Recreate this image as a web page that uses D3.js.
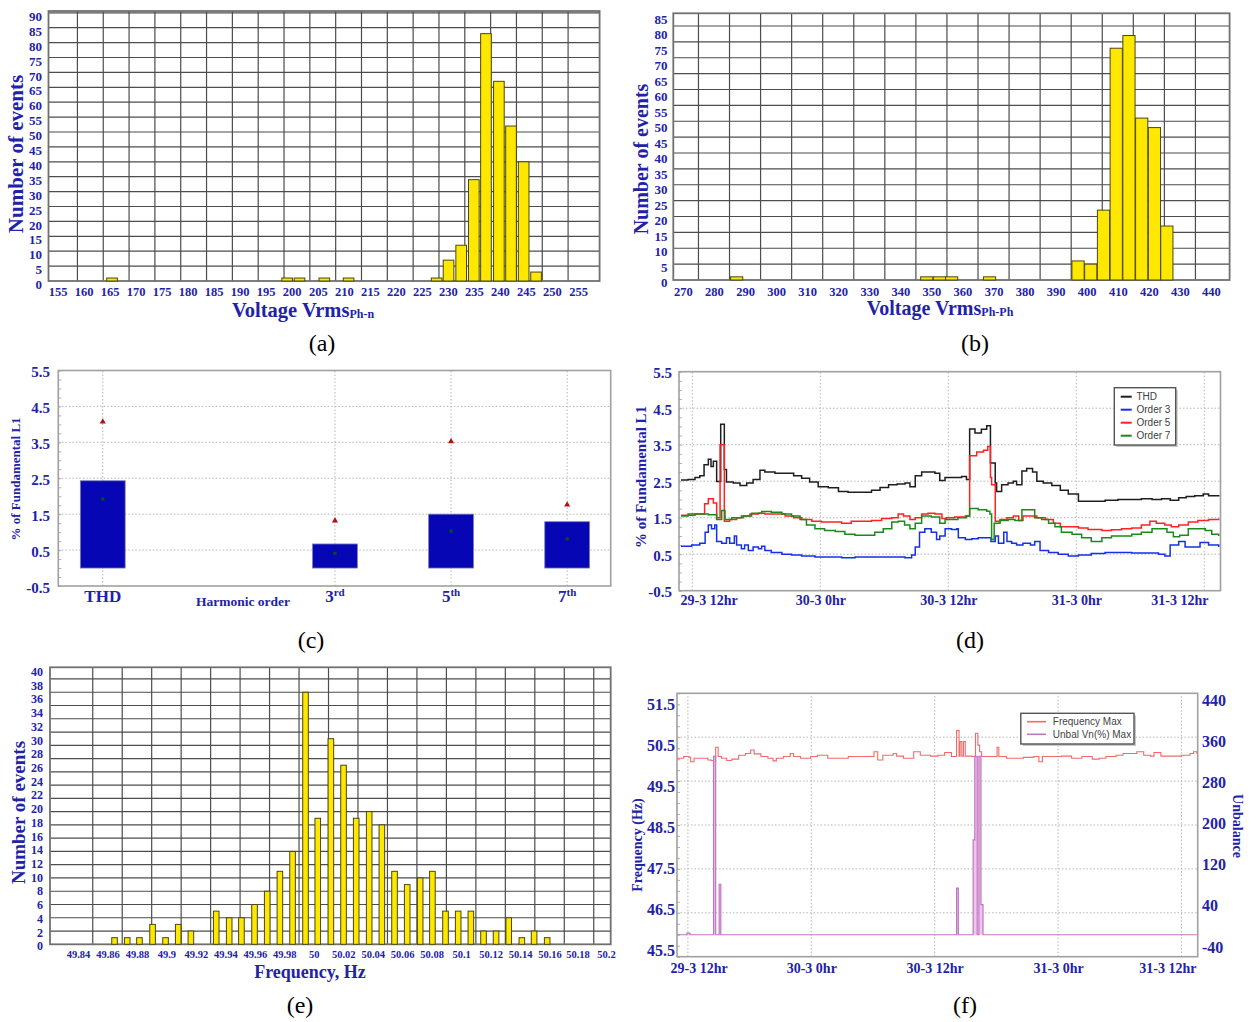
<!DOCTYPE html>
<html><head><meta charset="utf-8">
<script src="https://cdn.jsdelivr.net/npm/d3@7/dist/d3.min.js"></script>
<style>body{margin:0;background:#fff}svg{display:block}</style>
</head><body>
<svg id="c" width="1256" height="1022"></svg>
<script>
// ================= DATA =================
// (a) Voltage Vrms Ph-n histogram
const aCenters = [164.2, 198.1, 200.5, 205.3, 210.0, 227.05, 229.35, 231.8, 234.25, 236.6, 239.1, 241.45, 243.9, 246.3];
const aCounts  = [1, 1, 1, 1, 1, 1, 7, 12, 34, 83, 67, 52, 40, 3];
const aXLabels = [155,160,165,170,175,180,185,190,195,200,205,210,215,220,225,230,235,240,245,250,255];
const aYLabels = [0,5,10,15,20,25,30,35,40,45,50,55,60,65,70,75,80,85,90];
// (b) Voltage Vrms Ph-Ph histogram
const bCenters = [287.3, 348.5, 352.6, 356.5, 368.7, 397.2, 401.3, 405.4, 409.5, 413.6, 417.7, 421.8, 425.8];
const bCounts  = [1, 1, 1, 1, 1, 6, 5, 22, 73, 77, 51, 48, 17];
const bXLabels = [270,280,290,300,310,320,330,340,350,360,370,380,390,400,410,420,430,440];
const bYLabels = [0,5,10,15,20,25,30,35,40,45,50,55,60,65,70,75,80,85];
// (c) Harmonic summary
const cCatMain = ["THD", "3", "5", "7"];
const cCatSup  = ["", "rd", "th", "th"];
const cIndex   = [0, 2, 3, 4];
const cBar     = [2.43, 0.67, 1.50, 1.29];
const cMean    = [1.92, 0.41, 1.03, 0.81];
const cMax     = [4.07, 1.32, 3.52, 1.76];
const cYLabels = [5.5, 4.5, 3.5, 2.5, 1.5, 0.5, -0.5];
// (d) Harmonics vs time  [hours from 29-3 0hr, % of fundamental]
const dTimeTicks  = [12, 24, 36, 48, 60];
const dTimeLabels = ["29-3 12hr", "30-3 0hr", "30-3 12hr", "31-3 0hr", "31-3 12hr"];
const dYLabels = [5.5, 4.5, 3.5, 2.5, 1.5, 0.5, -0.5];
const dTHD = [[10.94,2.53],[11.6,2.55],[12.25,2.6],[12.7,2.65],[13.1,2.95],[13.5,3.1],[13.75,2.9],[13.97,3.05],[14.28,2.49],[14.66,4.06],[15.0,2.82],[15.2,2.48],[15.84,2.45],[16.47,2.38],[17.1,2.45],[17.7,2.55],[18.34,2.8],[18.8,2.75],[19.75,2.72],[20.7,2.72],[21.5,2.65],[22.25,2.58],[23.0,2.48],[23.8,2.35],[24.75,2.32],[25.7,2.22],[26.6,2.2],[27.9,2.2],[28.8,2.25],[29.6,2.33],[30.4,2.4],[31.2,2.42],[31.94,2.45],[32.4,2.35],[32.9,2.65],[33.5,2.75],[34.1,2.75],[34.75,2.72],[35.2,2.52],[35.69,2.6],[36.6,2.6],[37.25,2.63],[37.7,2.55],[38.0,3.93],[38.5,3.82],[39.1,3.92],[39.6,4.02],[39.95,3.0],[40.4,2.45],[40.53,2.22],[41.0,2.4],[41.6,2.45],[42.1,2.5],[42.4,2.4],[42.9,2.78],[43.35,2.85],[43.9,2.75],[44.3,2.5],[44.9,2.45],[45.7,2.38],[46.5,2.25],[47.25,2.15],[48.2,1.95],[49.4,1.95],[50.7,1.98],[51.9,2.0],[53.2,2.0],[54.1,2.02],[55.1,2.0],[56.0,2.02],[56.8,1.98],[57.6,2.05],[58.3,2.08],[59.1,2.1],[59.9,2.15],[60.4,2.1],[61.35,2.12]];
const dO3 = [[10.94,0.72],[11.94,0.75],[12.7,0.8],[13.2,1.1],[13.5,1.3],[13.8,1.2],[14.1,1.3],[14.28,0.85],[14.75,0.8],[15.2,0.95],[15.5,0.8],[15.94,1.0],[16.15,0.75],[16.6,0.65],[16.9,0.75],[17.25,0.6],[17.7,0.7],[18.2,0.65],[18.5,0.72],[18.8,0.6],[19.4,0.55],[20.4,0.5],[21.3,0.48],[22.25,0.45],[23.5,0.42],[24.75,0.42],[26.0,0.4],[27.25,0.42],[28.5,0.42],[29.75,0.42],[31.0,0.42],[31.94,0.4],[32.56,0.48],[32.9,0.7],[33.3,1.1],[33.8,1.2],[34.4,1.1],[34.9,0.9],[35.2,1.0],[35.7,1.2],[36.3,1.18],[36.8,1.2],[36.94,0.95],[37.6,0.9],[38.2,0.92],[38.8,0.95],[39.6,0.95],[40.0,0.85],[40.4,1.0],[40.7,0.8],[41.2,1.1],[41.5,0.85],[41.94,0.8],[42.4,0.75],[43.0,0.8],[43.7,0.75],[44.1,0.85],[44.6,0.6],[45.4,0.55],[46.3,0.5],[47.25,0.45],[48.2,0.48],[49.4,0.52],[50.7,0.55],[51.9,0.55],[53.2,0.53],[54.4,0.53],[55.7,0.5],[56.3,0.45],[56.8,0.75],[57.6,0.85],[58.2,0.7],[59.0,0.7],[59.6,0.82],[60.4,0.75],[61.35,0.7]];
const dO5 = [[10.94,1.57],[12.25,1.6],[13.15,1.88],[13.5,2.02],[13.97,1.9],[14.28,1.5],[14.6,3.5],[15.0,1.4],[15.5,1.45],[16.15,1.5],[16.8,1.55],[17.4,1.6],[18.2,1.62],[18.8,1.6],[19.75,1.6],[20.7,1.55],[21.5,1.5],[22.25,1.45],[23.2,1.4],[24.1,1.38],[25.4,1.38],[26.0,1.35],[26.9,1.4],[27.9,1.4],[28.8,1.42],[29.75,1.48],[30.7,1.5],[31.3,1.6],[31.8,1.55],[32.4,1.45],[32.9,1.5],[33.5,1.6],[34.1,1.62],[34.75,1.6],[35.4,1.48],[35.84,1.5],[36.6,1.52],[37.6,1.55],[38.0,3.2],[38.66,3.3],[39.3,3.35],[39.7,3.45],[39.95,2.6],[40.06,2.4],[40.4,1.4],[40.85,1.45],[41.5,1.5],[42.1,1.55],[42.6,1.42],[43.0,1.55],[43.7,1.55],[44.3,1.5],[45.1,1.45],[45.85,1.35],[46.5,1.25],[47.25,1.25],[48.2,1.22],[49.1,1.18],[50.4,1.15],[51.3,1.17],[52.25,1.2],[53.2,1.22],[54.1,1.3],[54.9,1.4],[55.5,1.35],[56.3,1.3],[56.9,1.25],[57.6,1.3],[58.5,1.38],[59.4,1.42],[60.4,1.45],[61.35,1.48]];
const dO7 = [[10.94,1.55],[11.6,1.6],[12.56,1.6],[13.5,1.58],[14.28,1.45],[14.75,1.7],[15.06,1.45],[15.7,1.5],[16.6,1.55],[17.56,1.62],[18.5,1.67],[19.4,1.65],[20.4,1.6],[21.3,1.55],[22.1,1.45],[22.7,1.3],[23.5,1.2],[24.4,1.15],[25.4,1.12],[26.3,1.05],[27.25,1.02],[28.2,1.02],[29.1,1.1],[29.9,1.2],[30.7,1.38],[31.3,1.4],[31.9,1.3],[32.4,1.2],[32.9,1.35],[33.5,1.55],[34.4,1.52],[35.2,1.35],[35.7,1.45],[36.9,1.5],[37.7,1.55],[38.0,1.75],[38.8,1.72],[39.6,1.68],[39.9,1.6],[40.06,0.9],[40.3,1.35],[40.85,1.42],[41.6,1.45],[42.25,1.42],[42.9,1.72],[43.7,1.72],[44.1,1.5],[44.75,1.45],[45.4,1.35],[46.0,1.25],[46.6,1.1],[47.6,1.05],[48.5,0.95],[49.4,0.85],[50.4,0.95],[51.3,1.0],[52.25,1.0],[53.2,1.05],[54.1,1.1],[55.1,1.2],[55.85,1.2],[56.5,1.1],[57.1,0.98],[57.7,1.02],[58.5,1.2],[59.3,1.2],[60.1,1.15],[60.7,1.05],[61.35,1.0]];
// (e) Frequency histogram
const eCenters = [49.8648,49.8734,49.8817,49.8906,49.8994,49.9080,49.9166,49.9338,49.9426,49.9509,49.9598,49.9684,49.9770,49.9856,49.9944,50.0027,50.0116,50.0202,50.0288,50.0376,50.0462,50.0548,50.0634,50.0722,50.0805,50.0894,50.0980,50.1066,50.1152,50.1237,50.1323,50.1412,50.1495,50.1584];
const eCounts  = [1,1,1,3,1,3,2,5,4,4,6,8,11,14,38,19,31,27,19,20,18,11,9,10,11,5,5,5,2,2,4,1,2,1];
const eXLabels = [49.84,49.86,49.88,49.9,49.92,49.94,49.96,49.98,50,50.02,50.04,50.06,50.08,50.1,50.12,50.14,50.16,50.18,50.2];
const eYLabels = [0,2,4,6,8,10,12,14,16,18,20,22,24,26,28,30,32,34,36,38,40];
// (f) Frequency & unbalance vs time
const fTimeTicks  = [12, 24, 36, 48, 60];
const fTimeLabels = ["29-3 12hr", "30-3 0hr", "30-3 12hr", "31-3 0hr", "31-3 12hr"];
const fLeftLabels  = [51.5, 50.5, 49.5, 48.5, 47.5, 46.5, 45.5];
const fRightLabels = [440, 360, 280, 200, 120, 40, -40];
const fFreq = [[10.93,50.02],[11.6,50.06],[12.1,50.04],[12.27,49.94],[12.6,50.02],[13.27,50.02],[13.94,49.98],[14.27,49.97],[14.54,49.94],[14.7,50.27],[14.94,50.06],[15.27,50.02],[15.77,49.97],[16.27,50.0],[16.94,50.09],[17.6,50.13],[18.1,50.21],[18.44,50.12],[19.1,50.06],[19.78,50.02],[20.28,49.96],[20.6,50.02],[21.28,50.06],[21.95,50.13],[22.28,50.06],[22.95,50.02],[23.95,50.06],[24.6,50.09],[25.6,50.02],[26.6,50.02],[27.6,50.06],[28.6,50.06],[29.6,50.06],[30.1,50.17],[30.46,49.98],[30.96,50.09],[31.96,50.13],[32.3,50.07],[32.96,50.02],[33.96,50.17],[34.6,50.09],[35.6,50.07],[36.3,50.09],[36.97,50.15],[37.63,50.06],[38.13,50.65],[38.37,50.07],[38.47,50.40],[38.64,50.07],[38.8,50.40],[38.97,50.07],[39.64,50.06],[39.97,50.59],[40.2,50.32],[40.37,50.17],[40.57,50.06],[41.64,50.06],[42.07,50.27],[42.24,50.06],[42.97,50.02],[43.64,50.02],[44.64,50.04],[45.64,50.06],[46.14,49.94],[46.48,50.06],[47.31,50.06],[48.31,50.07],[49.32,50.02],[50.32,50.06],[51.32,50.0],[51.99,50.02],[52.65,50.06],[53.65,50.09],[54.32,50.13],[54.99,50.13],[55.66,50.17],[56.33,50.09],[56.99,50.07],[57.33,50.15],[58.0,50.07],[59.0,50.07],[60.0,50.09],[60.83,50.13],[61.17,50.17],[61.5,50.12]];
const fUnbal = [[10.94,0],[11.9,3],[12.2,0],[14.5,325],[14.7,0],[15.04,92],[15.2,0],[38.13,85],[38.3,0],[39.74,173],[39.9,325],[40.14,0],[40.3,325],[40.5,55],[40.7,0],[61.5,0]];

// ================= DRAWING =================
const SERIF = '"Liberation Serif","Times New Roman",Times,serif';
const SANS = '"Liberation Sans",Arial,Helvetica,sans-serif';
const BLUE = '#2222a8';
const svg = d3.select('#c');

function styleAxis(g, size, color, family, weight) {
  g.attr('font-family', family || SERIF).attr('font-size', size).attr('font-weight', weight || 'bold');
  g.select('.domain').remove();
  g.selectAll('.tick line').remove();
  g.selectAll('text').attr('fill', color || BLUE);
  return g;
}
function leftLabels(scale, values, x, size, fmt, shift) {
  const g = svg.append('g').attr('transform', `translate(${x},${shift || 0})`)
    .call(d3.axisLeft(scale).tickValues(values).tickSize(0).tickPadding(0).tickFormat(fmt || (d => String(d))));
  return styleAxis(g, size);
}
function rightLabels(scale, values, x, size, fmt) {
  const g = svg.append('g').attr('transform', `translate(${x},0)`)
    .call(d3.axisRight(scale).tickValues(values).tickSize(0).tickPadding(0).tickFormat(fmt || (d => String(d))));
  return styleAxis(g, size);
}
function bottomLabels(scale, values, baseline, size, fmt) {
  const g = svg.append('g').attr('transform', `translate(0,${baseline - 0.71 * size})`)
    .call(d3.axisBottom(scale).tickValues(values).tickSize(0).tickPadding(0).tickFormat(fmt || (d => String(d))));
  return styleAxis(g, size);
}
function vTitle(text, cx, cy, size, rot) {
  svg.append('text').attr('transform', `translate(${cx},${cy}) rotate(${rot || -90})`)
    .attr('text-anchor', 'middle').attr('dy', '0.35em')
    .attr('font-family', SERIF).attr('font-weight', 'bold').attr('font-size', size).attr('fill', BLUE).text(text);
}
function caption(text, cx, base) {
  svg.append('text').attr('x', cx).attr('y', base).attr('text-anchor', 'middle')
    .attr('font-family', SERIF).attr('font-size', 24).attr('fill', '#000').text(text);
}

// ---------- histogram helper ----------
function histogram(o) {
  const x = d3.scaleLinear().domain(o.xDomain).range(o.xRange);
  const y = d3.scaleLinear().domain(o.yDomain).range(o.yRange);
  const [x0, x1] = o.xRange, [y0, y1] = o.yRange;
  const g = svg.append('g');
  g.selectAll(null).data(o.gridX).join('line')
    .attr('x1', d => x(d)).attr('x2', d => x(d)).attr('y1', y0).attr('y2', y1)
    .attr('stroke', '#4d4d4d').attr('stroke-width', 1.2);
  g.selectAll(null).data(o.gridY).join('line')
    .attr('x1', x0).attr('x2', x1).attr('y1', d => y(d)).attr('y2', d => y(d))
    .attr('stroke', '#4d4d4d').attr('stroke-width', 1.2);
  g.append('rect').attr('x', x0).attr('y', y1).attr('width', x1 - x0).attr('height', y0 - y1)
    .attr('fill', 'none').attr('stroke', '#707070').attr('stroke-width', 1.8);
  const bars = o.centers.map((c, i) => ({ c, v: o.counts[i] }));
  g.selectAll(null).data(bars).join('rect')
    .attr('x', d => x(d.c - o.binW / 2)).attr('width', d => x(d.c + o.binW / 2) - x(d.c - o.binW / 2))
    .attr('y', d => y(d.v)).attr('height', d => y(0) - y(d.v))
    .attr('fill', '#ffe800').attr('stroke', '#4a4615').attr('stroke-width', 1);
  return { x, y };
}

// ===== (a) =====
histogram({
  xDomain: [151.9, 258.6], xRange: [48.5, 599.6],
  yDomain: [0, 90.6], yRange: [281, 11],
  gridX: d3.range(157.5, 253, 5), gridY: d3.range(5, 91, 5),
  centers: aCenters, counts: aCounts, binW: 2.06
});
{
  const yl = d3.scaleLinear().domain([0, 90]).range([284.5, 16.3]);
  leftLabels(yl, aYLabels, 42, 13);
  const xl = d3.scaleLinear().domain([155, 255]).range([57.5, 578]);
  bottomLabels(xl, aXLabels, 296, 12.5);
  vTitle('Number of events', 16, 154, 21);
  const t = svg.append('text').attr('x', 303).attr('y', 317).attr('text-anchor', 'middle')
    .attr('font-family', SERIF).attr('font-weight', 'bold').attr('fill', BLUE);
  t.append('tspan').attr('font-size', 20.5).text('Voltage Vrms');
  t.append('tspan').attr('font-size', 12).attr('dy', 1).text('Ph-n');
  caption('(a)', 322, 351);
}

// ===== (b) =====
histogram({
  xDomain: [266.9, 446], xRange: [673.3, 1229.6],
  yDomain: [0, 84], yRange: [280, 13.3],
  gridX: d3.range(275, 436, 10), gridY: d3.range(5, 81, 5),
  centers: bCenters, counts: bCounts, binW: 3.93
});
{
  const yl = d3.scaleLinear().domain([0, 85]).range([282.7, 19.3]);
  leftLabels(yl, bYLabels, 667.5, 13);
  const xl = d3.scaleLinear().domain([266.9, 446]).range([673.3, 1229.6]);
  bottomLabels(xl, bXLabels, 296, 12.5);
  vTitle('Number of events', 641, 159, 20);
  const t = svg.append('text').attr('x', 940).attr('y', 315).attr('text-anchor', 'middle')
    .attr('font-family', SERIF).attr('font-weight', 'bold').attr('fill', BLUE);
  t.append('tspan').attr('font-size', 20).text('Voltage Vrms');
  t.append('tspan').attr('font-size', 12).attr('dy', 1).text('Ph-Ph');
  caption('(b)', 975, 351);
}

// ---------- line-chart frame helper ----------
function dottedGrid(x, y, xs, ys, x0, x1, y0, y1) {
  const g = svg.append('g');
  g.selectAll(null).data(xs).join('line')
    .attr('x1', d => x(d)).attr('x2', d => x(d)).attr('y1', y0).attr('y2', y1)
    .attr('stroke', '#b5b5b5').attr('stroke-width', 1).attr('stroke-dasharray', '1.5,2');
  g.selectAll(null).data(ys).join('line')
    .attr('x1', x0).attr('x2', x1).attr('y1', d => y(d)).attr('y2', d => y(d))
    .attr('stroke', '#b5b5b5').attr('stroke-width', 1).attr('stroke-dasharray', '1.5,2');
}
function frame(x0, x1, y0, y1) {
  svg.append('rect').attr('x', x0).attr('y', y1).attr('width', x1 - x0).attr('height', y0 - y1)
    .attr('fill', 'none').attr('stroke', '#a0a0a0').attr('stroke-width', 1.6);
}
function minorLeft(scale, values, x, len) {
  const g = svg.append('g').attr('transform', `translate(${x},0)`)
    .call(d3.axisRight(scale).tickValues(values).tickSize(len).tickFormat(''));
  g.select('.domain').remove();
  g.selectAll('line').attr('stroke', '#b0b0b0');
}

// ===== (c) =====
{
  const x = d3.scaleLinear().domain([-0.383, 4.375]).range([58.3, 610.7]);
  const y = d3.scaleLinear().domain([-0.5, 5.5]).range([586, 370.5]);
  dottedGrid(x, y, cIndex, [0.5, 1.5, 2.5, 3.5, 4.5], 58.3, 610.7, 586, 370.5);
  minorLeft(y, d3.range(-0.5, 5.51, 0.25), 58.3, 3);
  frame(58.3, 610.7, 586, 370.5);
  const hw = 0.193;
  svg.append('g').selectAll(null).data(cIndex).join('rect')
    .attr('x', d => x(d - hw)).attr('width', d => x(d + hw) - x(d - hw))
    .attr('y', (d, i) => y(cBar[i])).attr('height', (d, i) => y(0) - y(cBar[i]))
    .attr('fill', '#0606b4').attr('stroke', '#7a7ab8').attr('stroke-width', 0.8);
  svg.append('g').selectAll(null).data(cIndex).join('path')
    .attr('d', d3.symbol(d3.symbolSquare, 10))
    .attr('transform', (d, i) => `translate(${x(d)},${y(cMean[i])})`).attr('fill', '#0b4d12');
  svg.append('g').selectAll(null).data(cIndex).join('path')
    .attr('d', d3.symbol(d3.symbolTriangle, 16))
    .attr('transform', (d, i) => `translate(${x(d)},${y(cMax[i])})`).attr('fill', '#b51010');
  leftLabels(y, cYLabels, 50, 15, d => d.toFixed(1), 1.5);
  const lab = svg.append('g').selectAll(null).data(cIndex).join('text')
    .attr('x', d => x(d)).attr('y', 602).attr('text-anchor', 'middle')
    .attr('font-family', SERIF).attr('font-weight', 'bold').attr('fill', BLUE);
  lab.append('tspan').attr('font-size', 17).text((d, i) => cCatMain[i]);
  lab.append('tspan').attr('font-size', 11).attr('dy', -6).text((d, i) => cCatSup[i]);
  svg.append('text').attr('x', 243).attr('y', 606).attr('text-anchor', 'middle')
    .attr('font-family', SERIF).attr('font-weight', 'bold').attr('font-size', 13.5).attr('fill', BLUE)
    .text('Harmonic order');
  vTitle('% of Fundamental L1', 15, 479, 13);
  caption('(c)', 311, 648);
}

// ===== (d) =====
{
  const X0 = 679, X1 = 1220.5, Y0 = 590.7, Y1 = 371.7;
  const x = d3.scaleLinear().domain([10.75, 61.52]).range([X0, X1]);
  const y = d3.scaleLinear().domain([-0.5, 5.5]).range([Y0, Y1]);
  dottedGrid(x, y, dTimeTicks, [0.5, 1.5, 2.5, 3.5, 4.5], X0, X1, Y0, Y1);
  minorLeft(y, d3.range(-0.5, 5.51, 0.25), X0, 3);
  frame(X0, X1, Y0, Y1);
  const series = [
    { name: 'THD', color: '#1e1e1e', data: dTHD },
    { name: 'Order 3', color: '#1530e6', data: dO3 },
    { name: 'Order 5', color: '#ff2222', data: dO5 },
    { name: 'Order 7', color: '#1a8a1a', data: dO7 }
  ];
  const line = d3.line().x(d => x(d[0])).y(d => y(d[1])).curve(d3.curveStepAfter);
  svg.append('g').selectAll(null).data(series).join('path')
    .attr('d', s => line(s.data)).attr('fill', 'none').attr('stroke', s => s.color).attr('stroke-width', 1.5);
  leftLabels(y, dYLabels, 672, 15, d => d.toFixed(1), 1);
  const xl = bottomLabels(x, dTimeTicks, 605, 14, (d, i) => dTimeLabels[i]);
  const txt = xl.selectAll('text').nodes();
  d3.select(txt[0]).attr('text-anchor', 'start').attr('dx', 680 - x(12));
  d3.select(txt[txt.length - 1]).attr('text-anchor', 'end').attr('dx', 1208 - x(60));
  vTitle('% of Fundamental L1', 641, 477, 15);
  // legend
  const lg = svg.append('g');
  lg.append('rect').attr('x', 1116.3).attr('y', 389.7).attr('width', 61.4).attr('height', 57.3).attr('fill', '#c8c8c8');
  lg.append('rect').attr('x', 1114.3).attr('y', 387.7).attr('width', 61.4).attr('height', 57.3)
    .attr('fill', '#fff').attr('stroke', '#555').attr('stroke-width', 1.4);
  const ly = d3.scalePoint().domain(series.map(s => s.name)).range([396.7, 435.7]);
  lg.selectAll(null).data(series).join('line')
    .attr('x1', 1120.7).attr('x2', 1131.7).attr('y1', s => ly(s.name)).attr('y2', s => ly(s.name))
    .attr('stroke', s => s.color).attr('stroke-width', 2);
  lg.selectAll(null).data(series).join('text')
    .attr('x', 1136.5).attr('y', s => ly(s.name)).attr('dy', '0.35em')
    .attr('font-family', SANS).attr('font-size', 10).attr('fill', '#404040').text(s => s.name);
  caption('(d)', 970, 648);
}

// ===== (e) =====
{
  histogram({
    xDomain: [49.821, 50.2015], xRange: [50, 610.7],
    yDomain: [0, 41.76], yRange: [944.3, 667.3],
    gridX: d3.range(0, 18).map(i => +(49.85 + 0.02 * i).toFixed(2)), gridY: d3.range(2, 41, 2),
    centers: eCenters, counts: eCounts, binW: 0.0038
  });
  const yl = d3.scaleLinear().domain([0, 40]).range([946, 671.7]);
  leftLabels(yl, eYLabels, 43, 12);
  const xl = d3.scaleLinear().domain([49.821, 50.2015]).range([50, 610.7]);
  const g = bottomLabels(xl, eXLabels, 958, 10.5);
  const tn = g.selectAll('text').nodes();
  d3.select(tn[tn.length - 1]).attr('dx', -2.5);
  d3.select(tn[tn.length - 2]).attr('dx', -1.5);
  vTitle('Number of events', 18, 812.5, 19);
  svg.append('text').attr('x', 310).attr('y', 978).attr('text-anchor', 'middle')
    .attr('font-family', SERIF).attr('font-weight', 'bold').attr('font-size', 18).attr('fill', BLUE)
    .text('Frequency, Hz');
  caption('(e)', 300, 1013);
}

// ===== (f) =====
{
  const X0 = 677, X1 = 1197.7, Y0 = 956.7, Y1 = 693.3;
  const x = d3.scaleLinear().domain([10.94, 61.58]).range([X0, X1]);
  const yL = d3.scaleLinear().domain([45.5, 51.5]).range([Y0, Y1]);
  const yR = d3.scaleLinear().domain([-40, 440]).range([Y0, Y1]);
  dottedGrid(x, yR, fTimeTicks, [40, 120, 200, 280, 360], X0, X1, Y0, Y1);
  minorLeft(yL, d3.range(45.5, 51.51, 0.25), X0, 3);
  frame(X0, X1, Y0, Y1);
  const lf = d3.line().x(d => x(d[0])).y(d => yL(d[1])).curve(d3.curveStepAfter);
  svg.append('path').attr('d', lf(fFreq)).attr('fill', 'none').attr('stroke', '#f26a6a').attr('stroke-width', 1.1);
  const au = d3.area().x(d => x(d[0])).y0(yR(0)).y1(d => yR(d[1])).curve(d3.curveStepAfter);
  svg.append('path').attr('d', au(fUnbal)).attr('fill', '#ecc6ec');
  const lu = d3.line().x(d => x(d[0])).y(d => yR(d[1])).curve(d3.curveStepAfter);
  svg.append('path').attr('d', lu(fUnbal)).attr('fill', 'none').attr('stroke', '#c275c2').attr('stroke-width', 1.2);
  const ylL = d3.scaleLinear().domain([45.5, 51.5]).range([950, 704]);
  leftLabels(ylL, fLeftLabels, 675, 16, d => d.toFixed(1));
  const ylR = d3.scaleLinear().domain([-40, 440]).range([947, 700]);
  rightLabels(ylR, fRightLabels, 1202, 16);
  const xl = bottomLabels(x, fTimeTicks, 973, 14, (d, i) => fTimeLabels[i]);
  const txt = xl.selectAll('text').nodes();
  d3.select(txt[0]).attr('text-anchor', 'start').attr('dx', 670 - x(12));
  d3.select(txt[txt.length - 1]).attr('text-anchor', 'end').attr('dx', 1196 - x(60));
  vTitle('Frequency (Hz)', 637, 845, 14);
  vTitle('Unbalance', 1238, 826, 14, 90);
  // legend
  const items = [{ name: 'Frequency Max', color: '#f26a6a' }, { name: 'Unbal Vn(%) Max', color: '#c275c2' }];
  const lg = svg.append('g');
  lg.append('rect').attr('x', 1022.8).attr('y', 715.3).attr('width', 113.2).attr('height', 30.7).attr('fill', '#c8c8c8');
  lg.append('rect').attr('x', 1020.8).attr('y', 713.3).attr('width', 113.2).attr('height', 30.7)
    .attr('fill', '#fff').attr('stroke', '#555').attr('stroke-width', 1.4);
  const ly = d3.scalePoint().domain(items.map(s => s.name)).range([721.7, 734.3]);
  lg.selectAll(null).data(items).join('line')
    .attr('x1', 1027).attr('x2', 1046).attr('y1', s => ly(s.name)).attr('y2', s => ly(s.name))
    .attr('stroke', s => s.color).attr('stroke-width', 1.6);
  lg.selectAll(null).data(items).join('text')
    .attr('x', 1052.8).attr('y', s => ly(s.name)).attr('dy', '0.35em')
    .attr('font-family', SANS).attr('font-size', 10).attr('fill', '#444').text(s => s.name);
  caption('(f)', 965, 1013);
}
</script>
</body></html>
